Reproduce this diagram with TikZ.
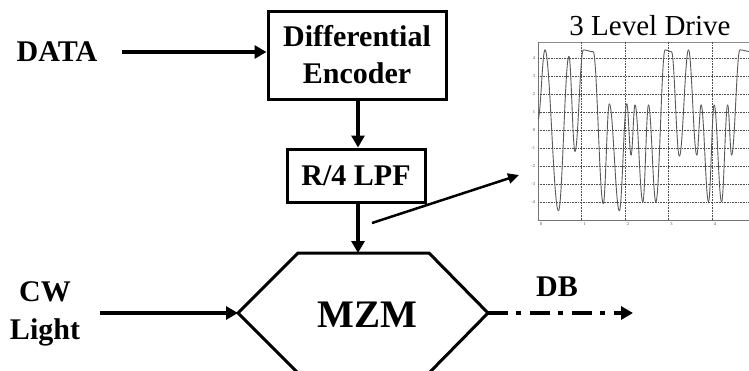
\documentclass[tikz,border=0pt]{standalone}
\usepackage{fontspec}
\setmainfont{Liberation Serif}
\usetikzlibrary{arrows.meta}
\begin{document}
\begin{tikzpicture}[x=1pt,y=-1pt,
  lbl/.style={font=\bfseries\fontsize{30}{38}\selectfont, inner sep=0pt, align=center},
  blk/.style={draw, line width=3pt, inner sep=0pt, align=center, font=\bfseries\fontsize{30}{37}\selectfont},
  thickarrow/.style={line width=4pt, -{Triangle[length=12pt,width=13pt]}},
  thinarrow/.style={line width=2.5pt, -{Triangle[length=11pt,width=10pt]}},
  grid/.style={densely dotted, line width=0.6pt, black!70},
  tick/.style={font=\fontsize{4.5}{4.5}\selectfont, text=black!70, inner sep=0pt},
  wave/.style={line width=0.9pt, black!65}]
\useasboundingbox (0,0) rectangle (749,370);
\clip (0,0) rectangle (749,370);

% Text labels
\node[lbl] (data) at (57,52) {DATA};
\node[lbl] (cw) at (45,314) {CW\\Light};
\node[lbl] (db) at (557,287) {DB};

% Blocks
\node[blk, minimum width=178pt, minimum height=88pt] (enc) at (357,55) {Differential\\Encoder};
\node[blk, minimum width=138pt, minimum height=53pt] (lpf) at (356,175.5) {R/4 LPF};

% MZM hexagon
\coordinate (hexL) at (238,313);
\coordinate (hexTL) at (298,253);
\coordinate (hexT) at (358,253);
\coordinate (hexTR) at (429,253);
\coordinate (hexR) at (488,313);
\coordinate (hexBR) at (429,373);
\coordinate (hexBL) at (298,373);
\draw[line width=3pt, line join=miter] (hexL) -- (hexTL) -- (hexTR) -- (hexR) -- (hexBR) -- (hexBL) -- cycle;
\node[font=\bfseries\fontsize{39}{39}\selectfont, inner sep=0pt] (mzm) at (367,315) {MZM};

% Connectors
\coordinate (dataend) at (122,52);
\draw[thickarrow] (dataend) -- (enc.west |- dataend);
\draw[thickarrow] (enc.south -| 358,0) -- (lpf.north -| 358,0);
\draw[thickarrow] (lpf.south -| 358,0) -- (hexT);
\coordinate (cwstart) at (100,313);
\draw[thickarrow] (cwstart) -- (hexL);
\coordinate (dbend) at (633,313);
\draw[line width=4pt, dash pattern=on 20pt off 8pt on 5pt off 9pt, -{Triangle[length=12pt,width=13pt]}] (hexR) -- (dbend);
\coordinate (tapstart) at (372,223);
\coordinate (tapend) at (519,175);
\draw[thinarrow] (tapstart) -- (tapend);

% Plot
\node[font=\fontsize{29}{29}\selectfont, inner sep=0pt, anchor=base] (title) at (650,35) {3 Level Drive};
\draw[black!45, line width=0.8pt] (538,42) -- (749,42);
\draw[black!55, line width=0.8pt] (538,42) -- (538,220) -- (749,220);
\begin{scope}[shift={(538,130)}, x=43.5pt, y=18pt]
  \foreach \v in {-4,...,4} {
    \draw[grid] (0,\v) -- (5,\v);
    \node[tick, anchor=east] at (-0.06,\v) {\v};
  }
  \foreach \t in {1,...,4} {
    \draw[grid] (\t,-5) -- (\t,4.9);
  }
  \foreach \t in {0,...,4} {
    \node[tick] at (\t+0.07,-5.25) {\t};
  }
  \foreach \ta/\va/\tb/\vb in {
    0/0.6/0.16/4.46, 0.16/4.46/0.47/-4.5, 0.47/-4.5/0.71/4.1, 0.71/4.1/0.85/-1.2,
    0.85/-1.2/1.04/4.45, 1.04/4.45/1.27/4.35, 1.27/4.35/1.5/-4.1, 1.5/-4.1/1.64/1.46,
    1.64/1.46/1.87/-4.5, 1.87/-4.5/2.04/1.46, 2.04/1.46/2.14/-1.4, 2.14/-1.4/2.23/1.4,
    2.23/1.4/2.41/-4.0, 2.41/-4.0/2.54/1.4, 2.54/1.4/2.71/-4.0, 2.71/-4.0/2.92/4.45,
    2.92/4.45/3.07/4.35, 3.07/4.35/3.25/-1.46, 3.25/-1.46/3.46/4.46, 3.46/4.46/3.65/-1.4,
    3.65/-1.4/3.75/1.4, 3.75/1.4/3.92/-4.0, 3.92/-4.0/4.05/1.4, 4.05/1.4/4.22/-4.0,
    4.22/-4.0/4.36/1.4, 4.36/1.4/4.45/-1.4, 4.45/-1.4/4.64/4.45, 4.64/4.45/4.9/4.35} {
    \draw[wave] plot[domain=0:1, samples=14, smooth]
      ({\ta+(\tb-\ta)*\x}, {\va+(\vb-\va)*(1-cos(180*\x))/2});
  }
\end{scope}
\end{tikzpicture}
\end{document}
